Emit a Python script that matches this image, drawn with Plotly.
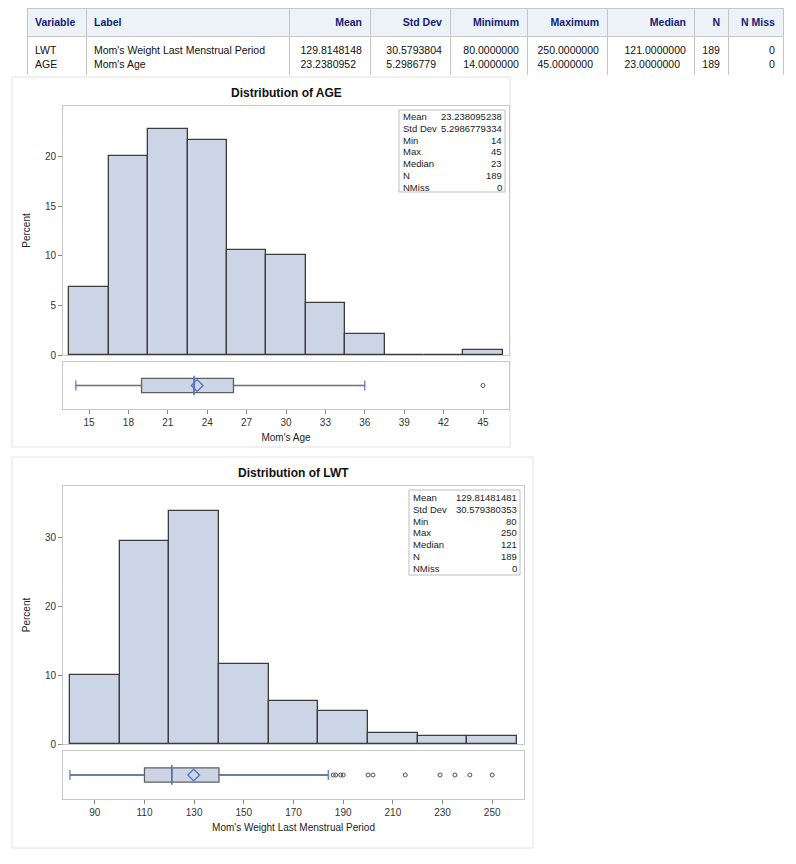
import plotly.graph_objects as go

# page body has an 8px margin; figure is sized to fit the window exactly
OFF = 8
W, H = 796 - OFF, 864 - OFF

# ---------------- summary table values ----------------
variables = ["LWT", "AGE"]
var_labels = ["Mom's Weight Last Menstrual Period", "Mom's Age"]
means = [129.81481481, 23.238095238]
std_devs = [30.579380353, 5.2986779334]
minimums = [80, 14]
maximums = [250, 45]
medians = [121, 23]
n_obs = [189, 189]
n_miss = [0, 0]
table_headers = ["Variable", "Label", "Mean", "Std Dev", "Minimum",
                 "Maximum", "Median", "N", "N Miss"]

# ---------------- AGE distribution ----------------
age_mid = [15, 18, 21, 24, 27, 30, 33, 36, 39, 42, 45]
age_pct = [6.9, 20.1, 22.8, 21.7, 10.6, 10.1, 5.3, 2.1, 0, 0, 0.5]
age_ticks = [15, 18, 21, 24, 27, 30, 33, 36, 39, 42, 45]
age_q1, age_q3 = 19, 26
age_whisk_lo, age_whisk_hi = 14, 36
age_outliers = [45]

# ---------------- LWT distribution ----------------
lwt_mid = [90, 110, 130, 150, 170, 190, 210, 230, 250]
lwt_pct = [10.1, 29.6, 33.9, 11.6, 6.3, 4.8, 1.6, 1.1, 1.1]
lwt_ticks = [90, 110, 130, 150, 170, 190, 210, 230, 250]
lwt_q1, lwt_q3 = 110, 140
lwt_whisk_lo, lwt_whisk_hi = 80, 184
lwt_outliers = [186, 187, 189, 190, 200, 202, 215, 229, 235, 241, 250]

# ---------------- style ----------------
FONT = "Liberation Sans, Arial, sans-serif"
BAR_FILL = "#CBD5E6"
BAR_EDGE = "#3C3C3C"
BOX_EDGE = "#606060"
BLUE = "#5273C2"
FRAME = "#C8C8C8"
TICK_C = "#333333"


def px(xp):
    return min(1.0, max(0.0, (xp - OFF) / W))


def py(yp):
    return min(1.0, max(0.0, 1 - (yp - OFF) / H))


fig = go.Figure()

# ---------------- table ----------------
def fmt7(v):
    return f"{v:.7f}"

cells = [
    ["<br>".join(variables)],
    ["<br>".join(var_labels)],
    ["<br>".join(fmt7(v) for v in means)],
    ["<br>".join(fmt7(v) for v in std_devs)],
    ["<br>".join(fmt7(v) for v in minimums)],
    ["<br>".join(fmt7(v) for v in maximums)],
    ["<br>".join(fmt7(v) for v in medians)],
    ["<br>".join(str(v) for v in n_obs)],
    ["<br>".join(str(v) for v in n_miss)],
]
aligns = ["left", "left"] + ["right"] * 7
fig.add_trace(go.Table(
    domain=dict(x=[px(27), px(783)], y=[py(76), py(8)]),
    columnwidth=[59, 203, 81, 80, 77, 80, 87, 34, 55],
    header=dict(values=[f"<b>{h}</b>" for h in table_headers],
                fill_color="#EDF1F8", line_color="#C6C6C6",
                font=dict(family=FONT, size=10.5, color="#112277"),
                align=aligns, height=20),
    cells=dict(values=cells, fill_color="white", line_color="#C6C6C6",
               font=dict(family=FONT, size=10.5, color="#111111"),
               align=aligns, height=34),
))


def add_dist(xa_h, ya_h, xa_b, ya_b, mids, pct, binw, q1, med, q3, lo, hi, mean, outl):
    fig.add_trace(go.Bar(x=mids, y=pct, width=binw, xaxis=xa_h, yaxis=ya_h,
                         marker=dict(color=BAR_FILL, line=dict(color=BAR_EDGE, width=1.3)),
                         hoverinfo="skip"))
    fig.add_trace(go.Box(y=[0], q1=[q1], median=[med], q3=[q3],
                         lowerfence=[lo], upperfence=[hi], orientation="h",
                         width=0.6, whiskerwidth=0, fillcolor=BAR_FILL,
                         line=dict(color=BOX_EDGE, width=1.3),
                         xaxis=xa_b, yaxis=ya_b, hoverinfo="skip"))
    # whiskers
    fig.add_trace(go.Scatter(x=[lo, q1, None, q3, hi], y=[0, 0, None, 0, 0],
                             mode="lines", line=dict(color=BLUE, width=1.2),
                             xaxis=xa_b, yaxis=ya_b, hoverinfo="skip"))
    fig.add_trace(go.Scatter(x=[lo, hi], y=[0, 0], mode="markers",
                             marker=dict(symbol="line-ns-open", size=7, color=BLUE,
                                         line=dict(color=BLUE, width=1.2)),
                             xaxis=xa_b, yaxis=ya_b, hoverinfo="skip"))
    # median
    fig.add_trace(go.Scatter(x=[med], y=[0], mode="markers",
                             marker=dict(symbol="line-ns-open", size=14, color=BLUE,
                                         line=dict(color=BLUE, width=1.6)),
                             xaxis=xa_b, yaxis=ya_b, hoverinfo="skip"))
    # mean
    fig.add_trace(go.Scatter(x=[mean], y=[0], mode="markers",
                             marker=dict(symbol="diamond-open", size=9,
                                         line=dict(color=BLUE, width=1.3), color=BLUE),
                             xaxis=xa_b, yaxis=ya_b, hoverinfo="skip"))
    # outliers
    fig.add_trace(go.Scatter(x=outl, y=[0] * len(outl), mode="markers",
                             marker=dict(symbol="circle-open", size=4,
                                         line=dict(color="#505050", width=1), color="#505050"),
                             xaxis=xa_b, yaxis=ya_b, hoverinfo="skip"))


add_dist("x", "y", "x2", "y2", age_mid, age_pct, 3, age_q1, medians[1], age_q3,
         age_whisk_lo, age_whisk_hi, means[1], age_outliers)
add_dist("x3", "y3", "x4", "y4", lwt_mid, lwt_pct, 20, lwt_q1, medians[0], lwt_q3,
         lwt_whisk_lo, lwt_whisk_hi, means[0], lwt_outliers)

age_range = [13.02, 46.98]
lwt_range = [77.2, 262.8]

tickfont = dict(family=FONT, size=10, color=TICK_C)
titlefont = dict(family=FONT, size=10, color="#222222")

common_line = dict(showline=True, linecolor=FRAME, linewidth=1, mirror=True,
                   showgrid=False, zeroline=False, automargin=False, fixedrange=True)

layout_axes = dict(
    # AGE histogram
    xaxis=dict(domain=[px(63), px(509)], range=age_range, anchor="y",
               showticklabels=False, ticks="", **common_line),
    yaxis=dict(domain=[py(355), py(106)], range=[0, 25.15], anchor="x",
               tickvals=[0, 5, 10, 15, 20], ticks="outside", ticklen=4,
               tickcolor="#888888", tickfont=tickfont,
               title=dict(text="Percent", font=titlefont, standoff=12), **common_line),
    # AGE box
    xaxis2=dict(domain=[px(63), px(509)], range=age_range, anchor="y2",
                tickvals=age_ticks, ticks="outside", ticklen=4, tickcolor="#888888",
                tickfont=tickfont,
                title=dict(text="Mom's Age", font=titlefont, standoff=6), **common_line),
    yaxis2=dict(domain=[py(409), py(362)], range=[-1, 1], anchor="x2",
                showticklabels=False, ticks="", **common_line),
    # LWT histogram
    xaxis3=dict(domain=[px(63), px(524)], range=lwt_range, anchor="y3",
                showticklabels=False, ticks="", **common_line),
    yaxis3=dict(domain=[py(744), py(486)], range=[0, 37.57], anchor="x3",
                tickvals=[0, 10, 20, 30], ticks="outside", ticklen=4,
                tickcolor="#888888", tickfont=tickfont,
                title=dict(text="Percent", font=titlefont, standoff=12), **common_line),
    # LWT box
    xaxis4=dict(domain=[px(63), px(524)], range=lwt_range, anchor="y4",
                tickvals=lwt_ticks, ticks="outside", ticklen=4, tickcolor="#888888",
                tickfont=tickfont,
                title=dict(text="Mom's Weight Last Menstrual Period", font=titlefont, standoff=6),
                **common_line),
    yaxis4=dict(domain=[py(799), py(751)], range=[-1, 1], anchor="x4",
                showticklabels=False, ticks="", **common_line),
)

stat_names = ["Mean", "Std Dev", "Min", "Max", "Median", "N", "NMiss"]


def stat_values(i):
    return [f"{means[i]:.11g}", f"{std_devs[i]:.11g}", str(minimums[i]),
            str(maximums[i]), str(medians[i]), str(n_obs[i]), str(n_miss[i])]


shapes = []
annotations = []
STAT_FONT = dict(family=FONT, size=9.5, color="#222222")
ROW_STEP = 11.8


def stats_box(x0, x1, y0, y1, first_row, vals):
    shapes.append(dict(type="rect", xref="paper", yref="paper",
                       x0=px(x0), x1=px(x1), y0=py(y1), y1=py(y0),
                       line=dict(color="#BDBDBD", width=1), fillcolor="white", layer="above"))
    for k, (name, val) in enumerate(zip(stat_names, vals)):
        yc = py(first_row + k * ROW_STEP)
        annotations.append(dict(xref="paper", yref="paper", x=px(x0 + 3), y=yc,
                                xanchor="left", yanchor="middle", showarrow=False,
                                text=name, font=STAT_FONT, borderpad=0))
        annotations.append(dict(xref="paper", yref="paper", x=px(x1 - 2), y=yc,
                                xanchor="right", yanchor="middle", showarrow=False,
                                text=val, font=STAT_FONT, borderpad=0))


stats_box(399, 505, 110, 192, 116.5, stat_values(1))
stats_box(409, 520, 490, 575, 497.5, stat_values(0))

# panel frames
shapes.append(dict(type="rect", xref="paper", yref="paper", x0=px(12), x1=px(510),
                   y0=py(447), y1=py(77), line=dict(color="#E2E2E2", width=1), layer="below"))
shapes.append(dict(type="rect", xref="paper", yref="paper", x0=px(12), x1=px(533),
                   y0=py(848), y1=py(457), line=dict(color="#E2E2E2", width=1), layer="below"))

annotations.append(dict(xref="paper", yref="paper", x=px(286), y=py(93),
                        xanchor="center", yanchor="middle", showarrow=False,
                        text="<b>Distribution of AGE</b>",
                        font=dict(family=FONT, size=12, color="#111111")))
annotations.append(dict(xref="paper", yref="paper", x=px(293), y=py(473),
                        xanchor="center", yanchor="middle", showarrow=False,
                        text="<b>Distribution of LWT</b>",
                        font=dict(family=FONT, size=12, color="#111111")))

fig.update_layout(
    width=W, height=H, margin=dict(l=0, r=0, t=0, b=0),
    paper_bgcolor="white", plot_bgcolor="white",
    showlegend=False, bargap=0, barmode="overlay",
    shapes=shapes, annotations=annotations,
    font=dict(family=FONT),
    **layout_axes,
)

fig.write_html("out.html")
